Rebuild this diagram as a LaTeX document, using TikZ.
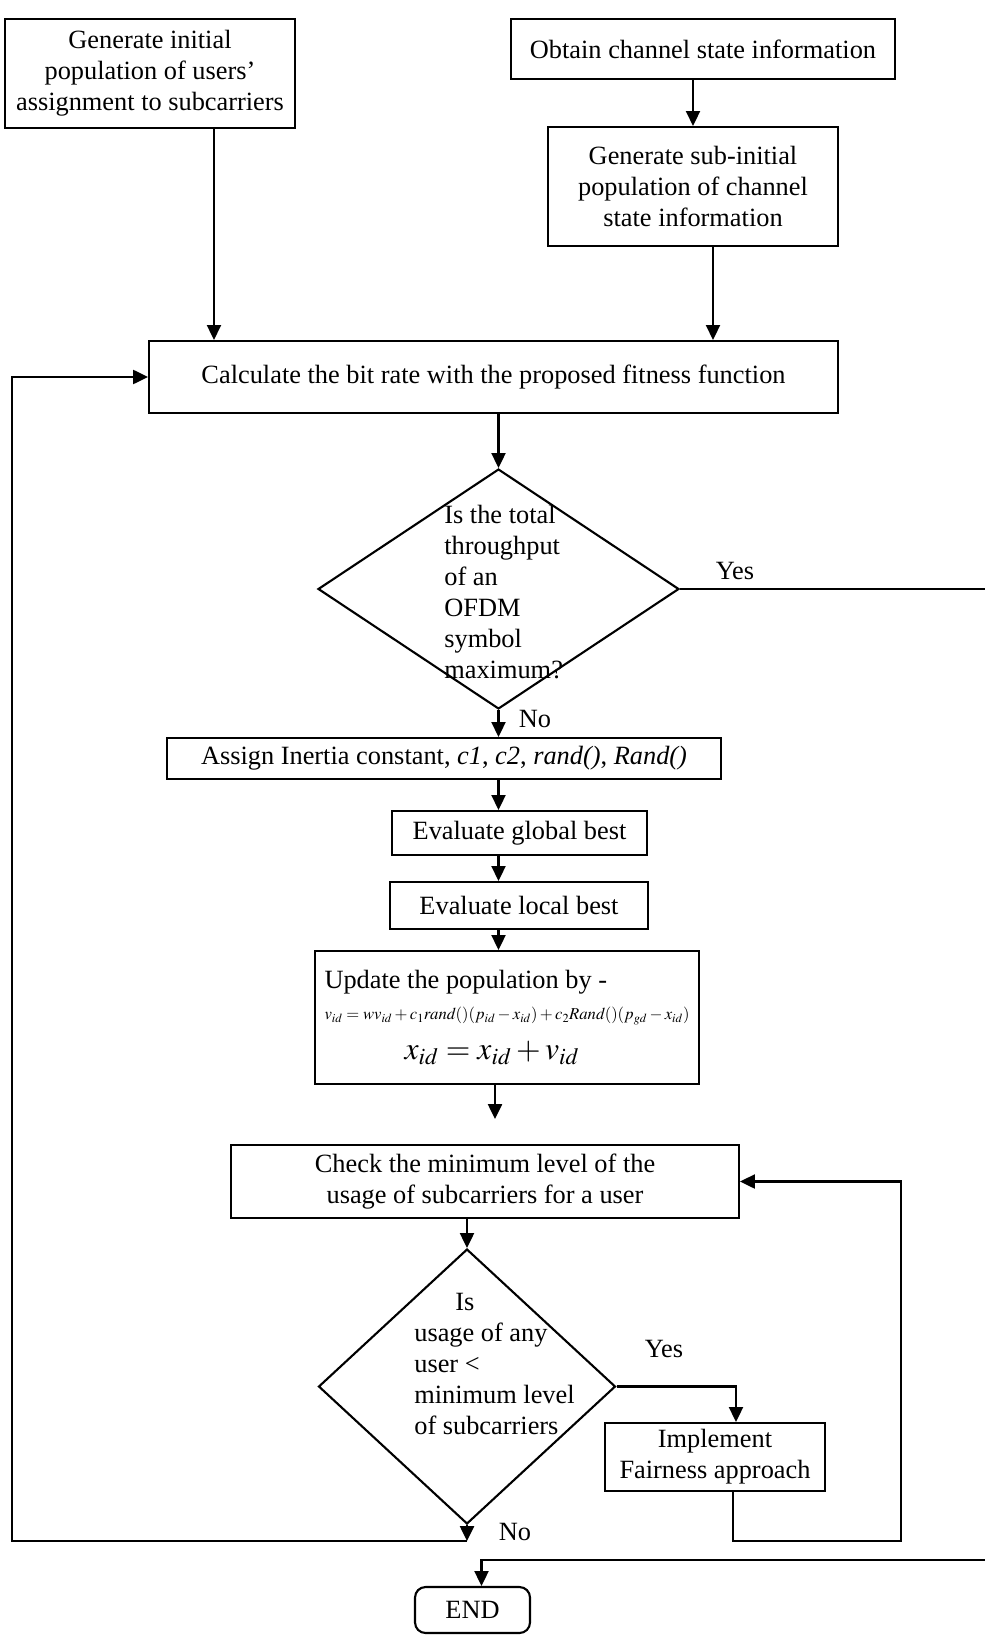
\documentclass[tikz,border=0pt]{standalone}
\usepackage{mathptmx}
\usepackage{fontspec}
\setmainfont{Liberation Serif}
\usepackage{graphicx}
\usetikzlibrary{shapes.geometric,arrows.meta}

\begin{document}
\begin{tikzpicture}[x=0.02cm, y=-0.02cm,
  every node/.style={font=\fontsize{15}{17.6}\selectfont},
  box/.style={draw, line width=1.2pt, align=center, inner sep=2pt},
  decision/.style={draw, diamond, line width=1.2pt, inner sep=0pt},
  dtext/.style={align=left, inner sep=0pt, anchor=west},
  link/.style={line width=1.2pt},
  arrow/.style={link, -{Triangle[length=8.5pt,width=8pt]}}]
\useasboundingbox (0,0) rectangle (984,1635);

% start blocks
\node[box, minimum width=5.8cm, minimum height=2.18cm] (init) at (150,73.5) {Generate initial\\population of users'\\assignment to subcarriers};
\node[box, minimum width=7.68cm, minimum height=1.2cm] (csi) at (703,49) {Obtain channel state information};
\node[box, minimum width=5.8cm, minimum height=2.38cm] (subinit) at (693,186.5) {Generate sub-initial\\population of channel\\state information};
\node[box, minimum width=13.78cm, minimum height=1.44cm] (fitness) at (493.5,377) {Calculate the bit rate with the proposed fitness function};

% first test
\node[decision, minimum width=7.22cm, minimum height=4.8cm] (dec1) at (498.5,589) {};
\node[dtext] (dec1txt) at (444,592) {Is the total\\throughput\\of an\\OFDM\\symbol\\maximum?};
\node (yes1) at (735,571) {Yes};
\node (no1) at (535,719) {No};

% swarm update
\node[box, minimum width=11.08cm, minimum height=0.82cm] (assign) at (444,758.5) {Assign Inertia constant, \textit{c1}, \textit{c2}, \textit{rand()}, \textit{Rand()}};
\node[box, minimum width=5.1cm, minimum height=0.88cm] (gbest) at (519.5,833) {Evaluate global best};
\node[box, minimum width=5.16cm, minimum height=0.94cm] (lbest) at (519,905.5) {Evaluate local best};
\node[box, minimum width=7.68cm, minimum height=2.66cm, align=left] (update) at (507,1017.5) {Update the population by -\\
  \resizebox{7.3cm}{!}{$v_{id} = w v_{id} + c_1 \mathit{rand}()(p_{id} - x_{id}) + c_2 \mathit{Rand}()(p_{gd} - x_{id})$}\\[5pt]
  \hspace*{1.6cm}{\fontsize{18}{20}\selectfont $x_{id} = x_{id} + v_{id}$}};
\coordinate (updend) at (495,1119);

% fairness check
\node[box, minimum width=10.16cm, minimum height=1.46cm] (check) at (485,1181.5) {Check the minimum level of the\\usage of subcarriers for a user};
\node[decision, minimum width=5.94cm, minimum height=5.5cm] (dec2) at (467,1386.5) {};
\node[dtext] (dec2txt) at (414,1364) {\hspace*{0.82cm}Is\\usage of any\\user <\\minimum level\\of subcarriers};
\node (yes2) at (664,1349) {Yes};
\node (no2) at (515,1532) {No};
\node[box, minimum width=4.4cm, minimum height=1.36cm] (fair) at (715,1457) {Implement\\Fairness approach};
\node[box, rounded corners=6pt, minimum width=2.3cm, minimum height=0.92cm] (endbox) at (472.5,1610) {END};

\coordinate (noloop) at (467,1541);
\coordinate (leftrail) at (12,1541);
\coordinate (fairloop) at (901,1541);
\coordinate (rightrail) at (1000,1560);

\draw[arrow] ([xshift=1.28cm]init.south) -- ([xshift=1.28cm]init.south |- fitness.north);
\draw[arrow] (csi.south -| subinit.north) -- (subinit.north);
\draw[arrow] ([xshift=0.4cm]subinit.south) -- ([xshift=0.4cm]subinit.south |- fitness.north);
\draw[arrow] (fitness.south -| dec1.north) -- (dec1.north);
\draw[arrow] (dec1.south) -- (dec1.south |- assign.north);
\draw[arrow] (dec1.south |- assign.south) -- (dec1.south |- gbest.north);
\draw[arrow] (dec1.south |- gbest.south) -- (dec1.south |- lbest.north);
\draw[arrow] (dec1.south |- lbest.south) -- (dec1.south |- update.north);
\draw[arrow] (update.south -| updend) -- (updend);
\draw[arrow] (check.south -| dec2.north) -- (dec2.north);
\draw[arrow] (dec2.east) -| ([xshift=0.42cm]fair.north);
\draw[arrow] ([xshift=0.36cm]fair.south) |- (fairloop) |- (check.east);
\draw[arrow] (dec2.south) -- (noloop);
\draw[arrow] (noloop) -- (leftrail) |- (fitness.west);
\draw[arrow] (dec1.east) -| (rightrail) -| ([xshift=0.18cm]endbox.north);
\end{tikzpicture}
\end{document}
